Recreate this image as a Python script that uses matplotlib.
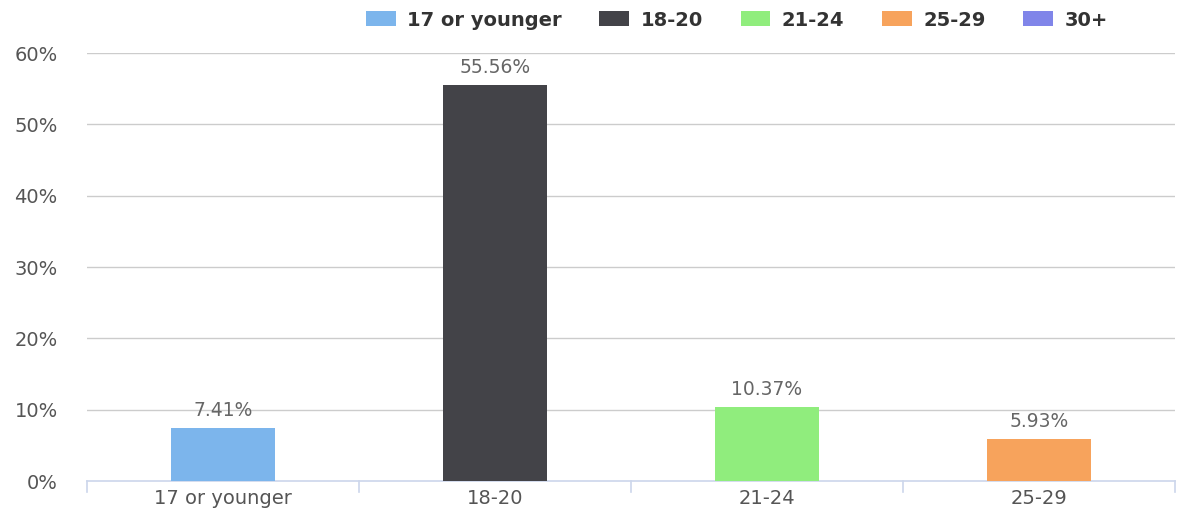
import matplotlib
matplotlib.use('Agg')
import matplotlib.pyplot as plt
from matplotlib.patches import Patch
import numpy as np

plt.rcParams['font.family'] = ['DejaVu Sans']

categories = ['17 or younger', '18-20', '21-24', '25-29']
values = [7.41, 55.56, 10.37, 5.93]
legend_labels = ['17 or younger', '18-20', '21-24', '25-29', '30+']
colors = ['#7cb5ec', '#434348', '#90ed7d', '#f7a35c', '#8085e9']
yticks = [0, 10, 20, 30, 40, 50, 60]

fig = plt.figure(figsize=(11.96, 5.15), dpi=100)
ax = fig.add_axes([0.0727, 0.066, 0.9097, 0.831])

x = np.arange(len(categories))
ax.bar(x, values, width=0.38, color=colors[:len(categories)], zorder=3)
for xi, v in zip(x, values):
    ax.text(xi, v + 1.1, '%.2f%%' % v, ha='center', va='bottom',
            fontsize=13.5, color='#666666', zorder=4)

ax.set_xlim(-0.5, len(categories) - 0.5)
ax.set_ylim(0, 60)
ax.set_yticks(yticks)
ax.set_yticklabels(['%d%%' % t for t in yticks])
for t in yticks[1:]:
    ax.axhline(t, color='#cccccc', lw=1, zorder=1)

ax.set_xticks(x)
ax.set_xticklabels(categories)
ax.tick_params(axis='x', length=0, pad=6, labelsize=14, labelcolor='#555555')
ax.tick_params(axis='y', length=0, pad=21, labelsize=14, labelcolor='#555555')
# category boundary ticks under the axis line
for b in np.arange(-0.5, len(categories), 1.0):
    ax.plot([b, b], [0, -0.025], transform=ax.get_xaxis_transform(),
            color='#ccd6eb', lw=1.2, clip_on=False)

for s in ['top', 'right', 'left']:
    ax.spines[s].set_visible(False)
ax.spines['bottom'].set_color('#ccd6eb')
ax.spines['bottom'].set_linewidth(1.2)

handles = [Patch(facecolor=c, edgecolor='none') for c in colors]
leg = fig.legend(handles, legend_labels, ncol=5, loc='center',
                 bbox_to_anchor=(0.616, 0.961), frameon=False,
                 handlelength=1.54, handleheight=0.8, handletextpad=0.57,
                 columnspacing=1.95, prop={'weight': 'bold', 'size': 14})
for t in leg.get_texts():
    t.set_color('#333333')

fig.savefig('out.png', dpi=100)
